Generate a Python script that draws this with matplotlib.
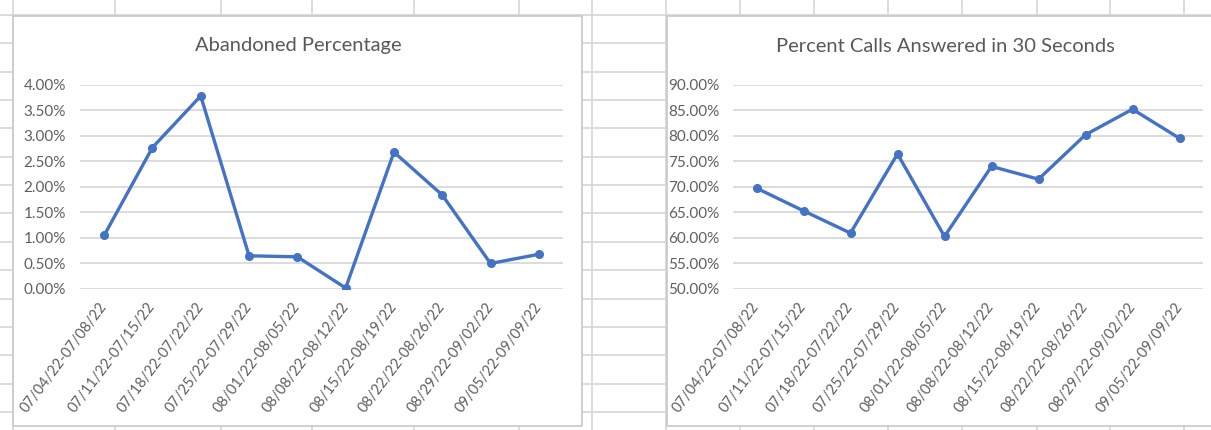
import matplotlib
matplotlib.use("Agg")
import matplotlib.pyplot as plt
from matplotlib.patches import Rectangle
from matplotlib.ticker import FuncFormatter

plt.rcParams['font.family'] = ['Lato', 'DejaVu Sans']

weeks = [
    "07/04/22-07/08/22", "07/11/22-07/15/22", "07/18/22-07/22/22",
    "07/25/22-07/29/22", "08/01/22-08/05/22", "08/08/22-08/12/22",
    "08/15/22-08/19/22", "08/22/22-08/26/22", "08/29/22-09/02/22",
    "09/05/22-09/09/22",
]
abandoned_pct = [0.0105, 0.0277, 0.0378, 0.0065, 0.0063, 0.0002,
                 0.0268, 0.0184, 0.0050, 0.0068]
answered_30s_pct = [0.6975, 0.6530, 0.6095, 0.7645, 0.6030, 0.7400,
                    0.7150, 0.8020, 0.8520, 0.7950]

W, H = 1211, 430
fig = plt.figure(figsize=(W / 100, H / 100), dpi=100)

# worksheet background with cell gridlines
bg = fig.add_axes([0, 0, 1, 1])
bg.set_xlim(0, W)
bg.set_ylim(H, 0)
bg.axis("off")
cell_color = "#d6d6d6"
for x in [13, 115, 221, 312, 414, 519, 592, 666, 740, 814, 888, 962, 1037, 1110, 1184]:
    bg.axvline(x, color=cell_color, lw=1.2)
for i in range(16):
    bg.axhline(15 + i * 28.35, color=cell_color, lw=1.2)

# chart frames
for x0, x1 in [(13, 582), (667, 1225)]:
    bg.add_patch(Rectangle((x0, 16), x1 - x0, 410, facecolor="white",
                           edgecolor="#c8c8c8", lw=1.2, zorder=3))


def pct_fmt(v, pos):
    return f"{v * 100:.2f}%"


def draw_chart(rect, values, ylim, step, title, title_x):
    ax = fig.add_axes(rect)
    ax.set_facecolor("none")
    xs = range(len(values))
    ax.plot(xs, values, color="#4472C4", lw=2.4, marker="o", ms=5.5,
            solid_joinstyle="round", zorder=3)
    ax.set_xlim(-0.5, len(values) - 0.5)
    ax.set_ylim(*ylim)
    n = int(round((ylim[1] - ylim[0]) / step))
    ax.set_yticks([ylim[0] + k * step for k in range(n + 1)])
    ax.yaxis.set_major_formatter(FuncFormatter(pct_fmt))
    ax.grid(axis="y", color="#d9d9d9", lw=1.3)
    ax.set_axisbelow(True)
    for s in ax.spines.values():
        s.set_visible(False)
    ax.tick_params(axis="both", length=0, colors="#5f5f5f", labelsize=11)
    ax.tick_params(axis="y", pad=10)
    ax.set_xticks(list(xs))
    ax.set_xticklabels(weeks, rotation=53, ha="right", va="center",
                       rotation_mode="anchor", fontsize=10.5)
    ax.tick_params(axis="x", pad=11)
    fig.text(title_x / W, 1 - 46 / H, title, ha="center", va="center",
             fontsize=14.5, color="#595959")
    return ax


draw_chart([80 / W, 1 - 289 / H, 483 / W, 204.3 / H], abandoned_pct,
           (0.0, 0.04), 0.005, "Abandoned Percentage", 298)
draw_chart([733 / W, 1 - 289 / H, 470 / W, 204.3 / H], answered_30s_pct,
           (0.5, 0.9), 0.05, "Percent Calls Answered in 30 Seconds", 945)

fig.savefig("out.png", dpi=100)
